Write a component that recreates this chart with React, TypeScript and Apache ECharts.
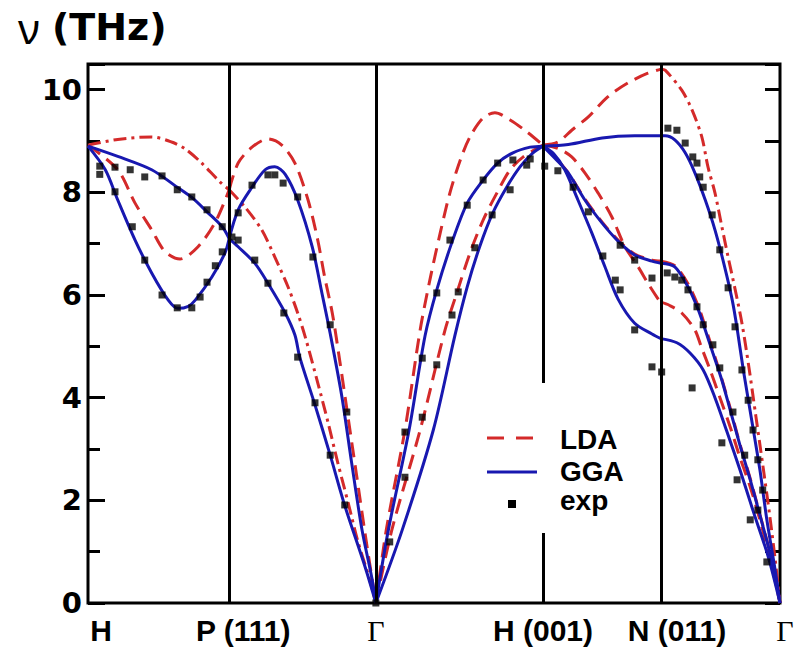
import React, { useEffect, useRef } from 'react';
import * as echarts from 'echarts';

// symmetry points along the path (fraction of path length, %)
const SYM_POS = [0, 20.4, 41.6, 65.75, 82.8, 100];
const SYM_LABELS = ['H', 'P (111)', 'Γ', 'H (001)', 'N (011)', 'Γ'];

// LDA branches (THz)
const LDA_HP_1 = [[0,8.92],[4.3,9.03],[9.2,9.08],[12.1,8.98],[14.0,8.85],[16.2,8.6],[19.1,8.2],[20.4,8.05]];
const LDA_HP_2 = [[0,8.92],[4.3,8.44],[6.8,7.79],[9.2,7.27],[11.1,6.85],[13.3,6.7],[15.9,6.94],[18.4,7.42],[20.4,8.05]];
const LDA_PG_1 = [[20.4,8.05],[21.7,8.57],[23.7,8.88],[26.0,9.04],[28.0,8.92],[29.9,8.57],[31.8,7.85],[33.2,7.07],[34.2,6.35],[35.3,5.65],[36.4,4.7],[37.6,3.6],[38.8,2.5],[40.1,1.3],[41.6,0]];
const LDA_PG_2 = [[20.4,8.05],[22.7,7.71],[25.1,7.27],[27.0,6.74],[28.9,6.16],[30.3,5.65],[31.4,5.18],[33.2,4.29],[34.7,3.51],[36.1,2.73],[37.6,1.95],[39.0,1.2],[40.5,0.55],[41.6,0]];
const LDA_GH_1 = [[41.6,0],[43.1,1.42],[45.8,3.37],[48.0,5.32],[49.4,6.29],[50.9,7.21],[52.3,7.99],[53.8,8.63],[55.2,9.08],[57.1,9.45],[58.8,9.55],[61.0,9.41],[63.4,9.18],[65.75,8.92]];
const LDA_GH_2 = [[41.6,0],[43.9,1.42],[48.0,3.37],[51.6,5.32],[53.3,6.04],[55.2,6.82],[57.1,7.46],[59.1,7.99],[61.0,8.44],[62.9,8.69],[65.75,8.92]];
const LDA_HN_1 = [[65.75,8.92],[67.9,8.98],[69.9,9.21],[72.3,9.47],[75.1,9.86],[78.0,10.13],[80.9,10.32],[82.8,10.4]];
const LDA_HN_2 = [[65.75,8.92],[67.5,8.68],[69.4,8.38],[71.8,7.87],[74.3,7.42],[76.6,7.07],[79.0,6.8],[81.5,6.68],[82.8,6.66]];
const LDA_HN_3 = [[65.75,8.92],[68.0,8.85],[69.9,8.69],[71.8,8.38],[73.7,7.99],[75.7,7.52],[77.6,6.94],[79.5,6.55],[80.9,6.23],[82.4,5.92],[82.8,5.86]];
const LDA_NG_1 = [[82.8,10.4],[83.4,10.38],[85.8,9.99],[87.3,9.6],[88.7,9.08],[89.6,8.49],[90.6,7.99],[91.6,7.33],[92.5,6.74],[93.5,6.12],[94.5,5.45],[95.5,4.6],[96.5,3.65],[97.5,2.7],[98.5,1.72],[99.3,0.85],[100,0]];
const LDA_NG_2 = [[82.8,6.66],[84.8,6.57],[86.7,6.22],[88.2,5.78],[89.2,5.38],[90.3,4.92],[91.6,4.36],[92.8,3.8],[94.2,3.1],[95.7,2.42],[97.1,1.72],[98.6,0.95],[100,0]];
const LDA_NG_3 = [[82.8,5.86],[84.0,5.8],[85.8,5.65],[87.7,5.32],[88.6,5.0],[89.9,4.54],[91.3,4.01],[92.8,3.43],[94.2,2.84],[95.7,2.26],[97.1,1.62],[98.6,0.84],[100,0]];

// GGA branches (THz)
const GGA_HP_1 = [[0,8.9],[4.3,8.7],[9.2,8.44],[12.9,8.1],[15.0,7.9],[17.2,7.62],[19.4,7.33],[20.4,7.1]];
const GGA_HP_2 = [[0,8.9],[2.5,8.44],[4.3,7.85],[6.8,7.07],[9.2,6.43],[11.6,5.9],[13.0,5.74],[14.5,5.78],[15.5,5.9],[17.9,6.35],[19.8,6.82],[20.4,7.1]];
const GGA_PG_1 = [[20.4,7.1],[21.7,7.66],[23.7,8.1],[25.6,8.44],[27.0,8.5],[28.5,8.35],[30.3,7.85],[32.4,6.94],[33.8,6.04],[35.0,5.25],[36.7,4.01],[38.1,2.73],[39.6,1.42],[41.0,0.5],[41.6,0]];
const GGA_PG_2 = [[20.4,7.1],[21.7,6.94],[24.1,6.62],[26.0,6.23],[28.5,5.65],[29.9,5.22],[30.6,4.79],[32.8,3.86],[35.0,2.88],[37.1,1.9],[40.0,0.72],[41.6,0]];
const GGA_GH_1 = [[41.6,0],[43.4,1.42],[46.4,3.37],[48.7,5.2],[50.4,6.1],[52.6,7.03],[54.8,7.79],[57.1,8.24],[59.2,8.57],[61.4,8.77],[63.9,8.88],[65.75,8.9]];
const GGA_GH_2 = [[41.6,0],[45.4,1.42],[49.9,3.37],[53.0,5.2],[54.8,6.16],[56.6,6.94],[58.5,7.6],[60.5,8.1],[62.4,8.49],[64.3,8.77],[65.75,8.9]];
const GGA_HN_1 = [[65.75,8.9],[69.4,8.93],[74.3,9.06],[79.0,9.1],[82.8,9.1]];
const GGA_HN_2 = [[65.75,8.9],[67.5,8.66],[69.4,8.38],[71.8,7.85],[74.3,7.4],[76.6,7.05],[79.0,6.78],[81.5,6.66],[82.8,6.62]];
const GGA_HN_3 = [[65.75,8.9],[67.3,8.75],[68.9,8.44],[70.8,7.85],[72.8,7.21],[74.7,6.55],[76.6,5.92],[79.0,5.45],[81.5,5.24],[82.8,5.15]];
const GGA_NG_1 = [[82.8,9.1],[83.4,9.1],[84.8,9.02],[86.3,8.77],[87.7,8.38],[89.2,7.85],[90.6,7.27],[92.0,6.55],[93.1,5.9],[93.8,5.35],[94.7,4.54],[95.9,3.57],[97.1,2.59],[98.1,1.62],[99.3,0.64],[100,0]];
const GGA_NG_2 = [[82.8,6.62],[84.8,6.55],[86.7,6.16],[88.2,5.71],[89.2,5.32],[90.3,4.87],[91.6,4.34],[92.8,3.76],[94.2,3.08],[95.7,2.4],[97.1,1.71],[98.6,0.94],[100,0]];
const GGA_NG_3 = [[82.8,5.15],[85.1,5.07],[87.0,4.87],[88.9,4.54],[90.6,4.0],[92.3,3.35],[94.2,2.6],[96.1,1.8],[98.3,0.9],[100,0]];

// experimental points (THz)
const EXP = [
  [1.7,8.51],[1.7,8.35],[3.9,8.49],[6.1,8.44],[8.2,8.3],[10.7,8.32],[12.9,8.05],[15.0,7.91],[17.2,7.66],[19.4,7.33],[20.8,7.13],
  [3.9,8.01],[6.4,7.33],[8.2,6.68],[10.7,6.0],[12.9,5.75],[15.0,5.75],[16.2,5.96],[17.2,6.25],[18.4,6.57],[19.4,6.84],
  [21.7,7.6],[21.7,7.07],[23.7,8.14],[26.0,8.34],[27.0,8.34],[28.2,8.18],[30.3,7.91],[32.5,6.74],[35.0,5.42],[37.4,3.72],
  [24.1,6.68],[26.0,6.23],[28.3,5.65],[30.3,4.79],[32.8,3.9],[35.0,2.88],[37.1,1.91],[41.6,0],
  [43.6,1.19],[45.8,2.45],[45.8,3.33],[48.3,3.62],[48.3,4.77],[50.4,4.64],[50.4,6.04],[52.6,5.61],[53.5,6.06],[52.3,7.07],
  [55.9,6.92],[54.8,7.75],[57.1,8.24],[58.4,7.56],[59.2,8.57],[61.0,8.05],[61.4,8.63],[63.4,8.53],[63.9,8.65],
  [66.0,8.51],[67.9,8.42],[70.1,8.1],[72.3,7.62],[74.4,6.76],[76.9,6.97],[79.0,6.68],[76.2,6.29],[76.9,6.1],[81.5,6.33],
  [79.0,5.32],[81.5,4.6],[82.9,4.5],
  [83.8,9.25],[85.1,9.21],[86.3,8.96],[87.4,8.69],[88.0,8.57],[88.4,8.3],[88.9,8.1],[90.2,7.56],[91.3,6.88],[92.5,6.14],
  [93.5,5.38],[94.5,4.54],[95.4,3.95],[96.1,3.37],[96.8,2.79],[97.5,2.2],
  [83.7,6.43],[84.8,6.35],[85.8,6.29],[86.7,6.1],[88.0,5.77],[88.9,5.42],[90.3,5.03],[91.3,4.58],[93.2,3.72],[94.9,2.88],[96.8,1.81],
  [87.3,4.19],[91.6,3.12],[93.8,2.4],[95.7,1.62],[98.1,0.8],
];

const LDA_DASHED = [LDA_HP_2, LDA_PG_1, LDA_GH_1, LDA_GH_2, LDA_HN_1, LDA_HN_2, LDA_HN_3, LDA_NG_2, LDA_NG_3];
const LDA_DASHDOT = [LDA_HP_1, LDA_PG_2, LDA_NG_1];
const GGA_ALL = [GGA_HP_1, GGA_HP_2, GGA_PG_1, GGA_PG_2, GGA_GH_1, GGA_GH_2, GGA_HN_1, GGA_HN_2, GGA_HN_3, GGA_NG_1, GGA_NG_2, GGA_NG_3];

const RED = '#d42a2a';
const BLUE = '#1818b0';

export default function App() {
  const ref = useRef<HTMLDivElement>(null);
  useEffect(() => {
    if (!ref.current) return;
    const chart = echarts.init(ref.current, undefined, { renderer: 'svg' });

    const lineSeries = (name: string, data: number[][], color: string, type: any, z: number) => ({
      name,
      type: 'line',
      data,
      showSymbol: false,
      symbol: 'none',
      smooth: 0.3,
      z,
      silent: true,
      lineStyle: { color, width: 3, type },
    });

    const series: any[] = [];
    series.push({
      type: 'line',
      data: [],
      silent: true,
      z: 1,
      markLine: {
        silent: true,
        symbol: ['none', 'none'],
        label: { show: false },
        lineStyle: { color: '#000', width: 3, type: 'solid' },
        data: SYM_POS.slice(1, 5).map((x) => ({ xAxis: x })),
      },
    });
    LDA_DASHED.forEach((d) => series.push(lineSeries('LDA', d, RED, [15, 8], 2)));
    LDA_DASHDOT.forEach((d) => series.push(lineSeries('LDA', d, RED, [13, 5, 3, 5], 2)));
    GGA_ALL.forEach((d) => series.push(lineSeries('GGA', d, BLUE, 'solid', 3)));
    series.push({
      name: 'exp',
      type: 'scatter',
      data: EXP,
      symbol: 'rect',
      symbolSize: 7,
      itemStyle: { color: '#000' },
      z: 4,
      silent: true,
    });

    const pads = [26, 28, 0, 0, 32, 10];
    const rich: any = {};
    SYM_LABELS.forEach((lab, i) => {
      const greek = lab === 'Γ';
      rich['l' + i] = {
        fontFamily: greek ? 'Liberation Serif' : 'Liberation Sans',
        fontWeight: greek ? 'normal' : 'bold',
        fontSize: 30,
        color: '#000',
        padding: [0, 0, 0, pads[i]],
      };
    });

    const legendText = (text: string, y: number) => ({
      type: 'text', z: 101, x: 560, y,
      style: { text, fontFamily: 'Liberation Sans', fontWeight: 'bold', fontSize: 28, fill: '#000', verticalAlign: 'middle' },
    });

    const option: any = {
      animation: false,
      backgroundColor: '#fff',
      grid: { left: 88, right: 23, top: 64, bottom: 49, show: true, borderColor: '#000', borderWidth: 3, backgroundColor: 'transparent' },
      xAxis: {
        type: 'value',
        min: 0,
        max: 100,
        axisLine: { show: false },
        axisTick: { show: false },
        splitLine: { show: false },
        axisLabel: {
          customValues: SYM_POS,
          margin: 12,
          formatter: (v: number) => {
            let best = 0;
            SYM_POS.forEach((p, i) => { if (Math.abs(p - v) < Math.abs(SYM_POS[best] - v)) best = i; });
            return '{l' + best + '|' + SYM_LABELS[best] + '}';
          },
          rich,
        },
      },
      yAxis: [
        {
          type: 'value', min: 0, max: 10.5, interval: 2, position: 'left',
          axisLine: { show: false }, splitLine: { show: false },
          axisTick: { show: true, inside: true, length: 17, lineStyle: { color: '#000', width: 3 } },
          axisLabel: {
            formatter: (v: number) => (v % 2 === 0 ? String(v) : ''),
            color: '#000', fontSize: 29, fontWeight: 'bold', fontFamily: 'DejaVu Sans', margin: 6,
          },
        },
        {
          type: 'value', min: 0, max: 10.5, interval: 1, position: 'left',
          axisLine: { show: false }, splitLine: { show: false },
          axisTick: { show: true, inside: true, length: 12, lineStyle: { color: '#000', width: 3 } },
          axisLabel: { show: false },
        },
        {
          type: 'value', min: 0, max: 10.5, interval: 1, position: 'right',
          axisLine: { show: false }, splitLine: { show: false },
          axisTick: { show: true, inside: true, length: 15, lineStyle: { color: '#000', width: 3 } },
          axisLabel: { show: false },
        },
      ],
      series,
      graphic: [
        {
          type: 'text', x: 18, y: 27, z: 100,
          style: { text: 'ν', fontFamily: 'Noto Sans', fontSize: 42, fill: '#000', verticalAlign: 'middle' },
        },
        {
          type: 'text', x: 52, y: 27, z: 100,
          style: { text: '(THz)', fontFamily: 'DejaVu Sans', fontWeight: 'bold', fontSize: 38, fill: '#000', verticalAlign: 'middle' },
        },
        { type: 'rect', z: 100, shape: { x: 478, y: 383, width: 160, height: 150 }, style: { fill: '#fff' } },
        { type: 'line', z: 101, shape: { x1: 487, y1: 438, x2: 536, y2: 438 }, style: { stroke: RED, lineWidth: 3, lineDash: [17, 12] } },
        { type: 'line', z: 101, shape: { x1: 487, y1: 472, x2: 537, y2: 472 }, style: { stroke: BLUE, lineWidth: 3 } },
        { type: 'rect', z: 101, shape: { x: 508, y: 500, width: 8, height: 8 }, style: { fill: '#000' } },
        legendText('LDA', 439),
        legendText('GGA', 471),
        legendText('exp', 500),
      ],
    };
    chart.setOption(option);
    return () => chart.dispose();
  }, []);
  return <div ref={ref} style={{ position: 'fixed', left: 0, top: 0, width: 803, height: 652, background: '#fff' }} />;
}
